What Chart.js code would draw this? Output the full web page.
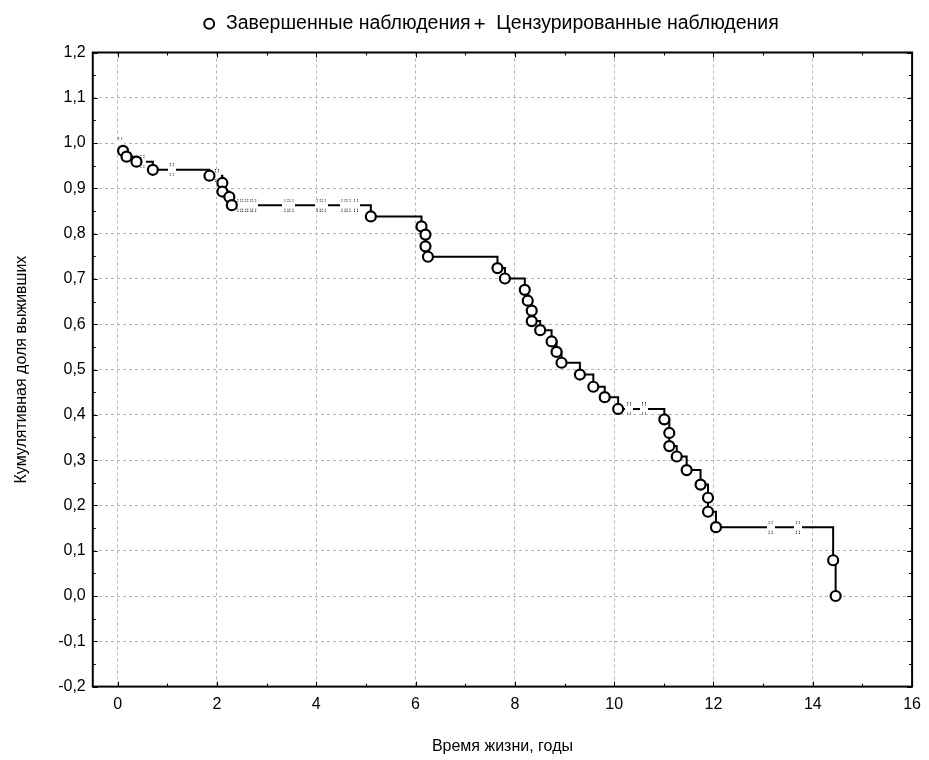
<!DOCTYPE html>
<html lang="ru">
<head>
    <meta charset="UTF-8">
    <title>Кумулятивная доля выживших</title>
    <script src="https://cdn.jsdelivr.net/npm/chart.js"></script>
    <style>
        body { margin: 0; background: #fff; }
        #chartContainer { width: 929px; height: 760px; }
    </style>
</head>
<body>
    <div id="chartContainer">
        <canvas id="kmChart" width="929" height="760"></canvas>
    </div>

    <script>
        // Завершенные наблюдения (время, доля выживших после события)
        const eventTimes = [0.11, 0.18, 0.38, 0.71, 1.85, 2.11, 2.11, 2.25, 2.30, 5.10,
            6.12, 6.20, 6.20, 6.25, 7.65, 7.80, 8.20, 8.26, 8.34, 8.34,
            8.51, 8.74, 8.84, 8.94, 9.31, 9.58, 9.81, 10.08, 11.01, 11.11,
            11.11, 11.26, 11.46, 11.74, 11.89, 11.89, 12.05, 14.41, 14.46];
        const eventSurvival = [0.983, 0.970, 0.959, 0.941, 0.928, 0.912, 0.893, 0.881, 0.863, 0.838,
            0.816, 0.798, 0.772, 0.749, 0.724, 0.701, 0.676, 0.652, 0.630, 0.607,
            0.587, 0.562, 0.539, 0.515, 0.489, 0.462, 0.439, 0.413, 0.390, 0.360,
            0.331, 0.308, 0.278, 0.246, 0.217, 0.186, 0.152, 0.079, 0.0];

        // Цензурированные наблюдения
        const censTimes = [0.05, 0.50, 1.09, 2.00, 2.45, 2.55, 2.65, 2.75, 3.40, 3.50,
            4.05, 4.15, 4.55, 4.65, 4.80, 10.30, 10.60, 13.15, 13.70];
        const censSurvival = [1.0, 0.959, 0.941, 0.928, 0.863, 0.863, 0.863, 0.863, 0.863, 0.863,
            0.863, 0.863, 0.863, 0.863, 0.863, 0.413, 0.413, 0.152, 0.152];

        const startTime = 0;
        const startSurvival = 1.0;

        const xTicks = [0, 2, 4, 6, 8, 10, 12, 14, 16];
        const yTicks = [-0.2, -0.1, 0.0, 0.1, 0.2, 0.3, 0.4, 0.5, 0.6, 0.7, 0.8, 0.9, 1.0, 1.1, 1.2];

        const FONT = '"Liberation Sans", Arial, sans-serif';

        // метка цензурирования: разрыв линии и пунктир сверху/снизу
        const censMark = document.createElement('canvas');
        censMark.width = 8;
        censMark.height = 13;
        const cm = censMark.getContext('2d');
        cm.fillStyle = '#fff';
        cm.fillRect(0, 4, 8, 5);
        cm.fillStyle = '#222';
        [0, 2, 10, 12].forEach(y => { cm.fillRect(2, y, 1, 1); cm.fillRect(5, y, 1, 1); });

        const stepData = [{ x: startTime, y: startSurvival }]
            .concat(eventTimes.map((t, i) => ({ x: t, y: eventSurvival[i] })));
        const eventData = eventTimes.map((t, i) => ({ x: t, y: eventSurvival[i] }));
        const censData = censTimes.map((t, i) => ({ x: t, y: censSurvival[i] }));

        // отступ под легендой и сдвиг легенды вправо
        const legendPlugin = {
            id: 'legendGap',
            beforeLayout(chart) {
                const lg = chart.legend;
                if (lg && !lg._gapPatched) {
                    const fitOrig = lg.fit;
                    lg.fit = function () { fitOrig.call(this); this.height += 9; };
                    lg._gapPatched = true;
                }
            },
            afterLayout(chart) {
                chart.legend.left += 27;
                chart.legend.right += 27;
            }
        };

        // рамка и внутренние засечки
        const framePlugin = {
            id: 'frame',
            afterDraw(chart) {
                const { ctx, chartArea: a, scales } = chart;
                ctx.save();
                ctx.strokeStyle = '#000';
                ctx.lineWidth = 1;
                const xs = xTicks, ys = yTicks;
                const tick = (x1, y1, x2, y2) => { ctx.beginPath(); ctx.moveTo(x1, y1); ctx.lineTo(x2, y2); ctx.stroke(); };
                xs.forEach((v, i) => {
                    const px = Math.round(scales.x.getPixelForValue(v)) + 0.5;
                    tick(px, a.bottom, px, a.bottom - 5);
                    tick(px, a.top, px, a.top + 5);
                    if (i < xs.length - 1) {
                        const pm = Math.round(scales.x.getPixelForValue((v + xs[i + 1]) / 2)) + 0.5;
                        tick(pm, a.bottom, pm, a.bottom - 3);
                        tick(pm, a.top, pm, a.top + 3);
                    }
                });
                ys.forEach((v, i) => {
                    const py = Math.round(scales.y.getPixelForValue(v)) + 0.5;
                    tick(a.left, py, a.left + 5, py);
                    tick(a.right, py, a.right - 5, py);
                    if (i < ys.length - 1) {
                        const pm = Math.round(scales.y.getPixelForValue((v + ys[i + 1]) / 2)) + 0.5;
                        tick(a.left, pm, a.left + 3, pm);
                        tick(a.right, pm, a.right - 3, pm);
                    }
                });
                ctx.lineWidth = 2;
                ctx.strokeRect(a.left, a.top, a.right - a.left, a.bottom - a.top);
                ctx.restore();
            }
        };

        const ctx = document.getElementById('kmChart').getContext('2d');
        const kmChart = new Chart(ctx, {
            type: 'scatter',
            data: {
                datasets: [{
                    label: 'Завершенные наблюдения',
                    data: eventData,
                    showLine: false,
                    pointStyle: 'circle',
                    pointRadius: 5,
                    pointBorderWidth: 2.2,
                    pointBorderColor: '#000',
                    pointBackgroundColor: '#fff'
                }, {
                    label: 'Цензурированные наблюдения',
                    data: censData,
                    showLine: false,
                    pointStyle: censMark,
                    pointRadius: 5,
                    pointBorderColor: '#000',
                    pointBackgroundColor: '#000'
                }, {
                    label: 'step',
                    data: stepData,
                    showLine: true,
                    stepped: 'before',
                    borderColor: '#000',
                    borderWidth: 2,
                    pointRadius: 0
                }]
            },
            options: {
                responsive: false,
                animation: false,
                layout: { padding: { top: 12, right: 14, left: 12, bottom: 4 } },
                plugins: {
                    tooltip: { enabled: false },
                    legend: {
                        labels: {
                            usePointStyle: true,
                            boxWidth: 14,
                            boxHeight: 7,
                            padding: 2,
                            color: '#000',
                            font: { size: 19.5, family: FONT },
                            filter: item => item.datasetIndex < 2,
                            generateLabels(chart) {
                                const items = Chart.defaults.plugins.legend.labels.generateLabels(chart);
                                items.forEach(it => {
                                    if (it.datasetIndex === 1) {
                                        it.pointStyle = 'cross';
                                        it.strokeStyle = '#000';
                                        it.lineWidth = 1.5;
                                    } else {
                                        it.lineWidth = 2;
                                    }
                                });
                                return items;
                            }
                        }
                    }
                },
                scales: {
                    x: {
                        type: 'linear',
                        min: -0.5,
                        max: 16,
                        afterBuildTicks: s => { s.ticks = xTicks.map(v => ({ value: v })); },
                        ticks: {
                            color: '#000',
                            font: { size: 16, family: FONT },
                            padding: 8
                        },
                        grid: { color: '#b4b4b4', drawTicks: false },
                        border: { display: false, dash: [3, 3] },
                        title: {
                            display: true,
                            text: 'Время жизни, годы',
                            color: '#000',
                            font: { size: 16, family: FONT },
                            padding: { top: 15, bottom: 0 }
                        }
                    },
                    y: {
                        type: 'linear',
                        min: -0.2,
                        max: 1.2,
                        afterBuildTicks: s => { s.ticks = yTicks.map(v => ({ value: v })); },
                        ticks: {
                            color: '#000',
                            font: { size: 16, family: FONT },
                            padding: 7,
                            callback: v => v.toFixed(1).replace('.', ',')
                        },
                        grid: { color: '#b4b4b4', drawTicks: false },
                        border: { display: false, dash: [3, 3] },
                        title: {
                            display: true,
                            text: 'Кумулятивная доля выживших',
                            color: '#000',
                            font: { size: 16, family: FONT },
                            padding: { top: 0, bottom: 20 }
                        }
                    }
                }
            },
            plugins: [legendPlugin, framePlugin]
        });
    </script>
</body>
</html>
